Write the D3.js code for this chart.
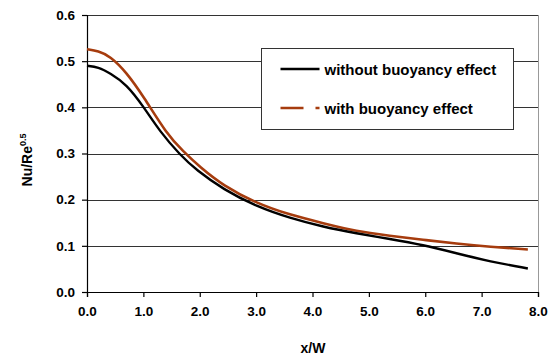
<!DOCTYPE html>
<html>
<head>
<meta charset="utf-8">
<script src="https://cdn.jsdelivr.net/npm/d3@7"></script>
<style>
  body { margin: 0; background: #fff; }
  #chart text { font-family: "Liberation Sans", Arial, sans-serif; font-weight: bold; fill: #000; }
</style>
</head>
<body>
<div id="chart"><svg></svg></div>
<script>
// values
var xNoBuoy = [0.0, 0.2, 0.41, 0.7, 1.0, 1.29, 1.65, 1.94, 2.42, 3.01, 3.6, 4.19, 4.78, 5.37, 5.96, 6.55, 7.15, 7.82];
var yNoBuoy = [0.490, 0.487, 0.474, 0.450, 0.402, 0.348, 0.297, 0.264, 0.222, 0.185, 0.160, 0.141, 0.127, 0.115, 0.102, 0.084, 0.066, 0.051];

var xBuoy = [0.0, 0.2, 0.41, 0.7, 1.0, 1.41, 1.71, 2.0, 2.42, 3.01, 3.6, 4.19, 4.78, 5.37, 5.96, 6.55, 7.15, 7.82];
var yBuoy = [0.526, 0.522, 0.511, 0.476, 0.424, 0.343, 0.304, 0.271, 0.230, 0.192, 0.167, 0.149, 0.131, 0.122, 0.113, 0.105, 0.098, 0.092];

var xTicks = [0, 1, 2, 3, 4, 5, 6, 7, 8];
var yTicks = [0, 0.1, 0.2, 0.3, 0.4, 0.5, 0.6];
var seriesNames = ["without buoyancy effect", "with buoyancy effect"];

var chartWidth = 556, chartHeight = 359;

var svg = d3.select("#chart svg")
    .attr("width", chartWidth)
    .attr("height", chartHeight);

var margin = {top: 15, right: 18, bottom: 67, left: 87},
    width = chartWidth - margin.left - margin.right,
    height = chartHeight - margin.top - margin.bottom;

var x = d3.scaleLinear().domain([0, 8]).range([0, width]);
var y = d3.scaleLinear().domain([0, 0.6]).range([height, 0]);

var g = svg.append("g")
    .attr("transform", "translate(" + margin.left + "," + margin.top + ")");

// gridlines
g.selectAll(".grid")
    .data(yTicks.slice(1))
    .enter()
    .append("line")
    .attr("x1", 0)
    .attr("x2", width)
    .attr("y1", function(d) { return Math.round(y(d)) + 0.5; })
    .attr("y2", function(d) { return Math.round(y(d)) + 0.5; })
    .attr("stroke", "#333")
    .attr("stroke-width", 1);

// right border of plot
g.append("line")
    .attr("x1", width + 0.5).attr("x2", width + 0.5)
    .attr("y1", 0).attr("y2", height)
    .attr("stroke", "#999");

var xAxis = g.append("g")
    .attr("transform", "translate(0," + height + ")")
    .call(d3.axisBottom(x).tickValues(xTicks).tickFormat(d3.format(".1f")).tickSize(5).tickPadding(9));

var yAxis = g.append("g")
    .call(d3.axisLeft(y).tickValues(yTicks).tickFormat(d3.format(".1f")).tickSize(5).tickPadding(7));

[xAxis, yAxis].forEach(function(a) {
    a.selectAll("path, line").attr("stroke", "#000").attr("stroke-width", 1.2);
    a.selectAll("text").style("font-size", "13.5px");
});

var line = d3.line()
    .curve(d3.curveBasis)
    .x(function(d) { return x(d[0]); })
    .y(function(d) { return y(d[1]); });

var noBuoy = d3.zip(xNoBuoy, yNoBuoy),
    buoy = d3.zip(xBuoy, yBuoy);

g.append("path")
    .attr("d", line(buoy))
    .attr("fill", "none")
    .attr("stroke", "#a63c0e")
    .attr("stroke-width", 2.6);

g.append("path")
    .attr("d", line(noBuoy))
    .attr("fill", "none")
    .attr("stroke", "#000")
    .attr("stroke-width", 2.4);

// legend
var legend = svg.append("g").attr("transform", "translate(261.5,48.5)");
legend.append("rect")
    .attr("width", 252).attr("height", 81)
    .attr("fill", "#fff").attr("stroke", "#333").attr("stroke-width", 1);

legend.append("line")
    .attr("x1", 19).attr("x2", 58).attr("y1", 20.5).attr("y2", 20.5)
    .attr("stroke", "#000").attr("stroke-width", 2.6);
legend.append("line")
    .attr("x1", 19).attr("x2", 58).attr("y1", 59.5).attr("y2", 59.5)
    .attr("stroke", "#a63c0e").attr("stroke-width", 2.6)
    .attr("stroke-dasharray", "23,12,4");

legend.selectAll(".ltext")
    .data(seriesNames)
    .enter()
    .append("text")
    .attr("x", 63)
    .attr("y", function(d, i) { return 26 + i * 39; })
    .style("font-size", "15px")
    .text(function(d) { return d; });

// axis titles
svg.append("text")
    .attr("x", 313).attr("y", 353)
    .attr("text-anchor", "middle")
    .style("font-size", "14px")
    .text("x/W");

var yt = svg.append("text")
    .attr("transform", "translate(32,160) rotate(-90)")
    .attr("text-anchor", "middle")
    .style("font-size", "14px");
yt.append("tspan").text("Nu/Re");
yt.append("tspan").attr("dy", -6).style("font-size", "9px").text("0.5");
</script>
</body>
</html>
